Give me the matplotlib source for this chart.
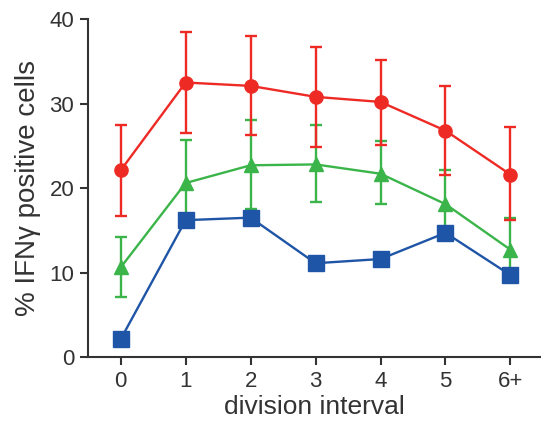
import matplotlib
matplotlib.use("Agg")
import matplotlib.pyplot as plt

plt.rcParams['font.family'] = ['Liberation Sans', 'DejaVu Sans']

# division interval categories
labels = ["0", "1", "2", "3", "4", "5", "6+"]
x = list(range(len(labels)))

# red series (circles)
red = [22.1, 32.5, 32.1, 30.8, 30.2, 26.8, 21.6]
red_hi = [27.5, 38.5, 38.0, 36.7, 35.2, 32.1, 27.2]
red_lo = [16.7, 26.5, 26.3, 24.9, 25.1, 21.5, 16.2]

# green series (triangles)
green = [10.6, 20.6, 22.7, 22.8, 21.7, 18.1, 12.7]
green_hi = [14.2, 25.7, 28.1, 27.5, 25.6, 22.1, 16.4]
green_lo = [7.1, 15.5, 17.5, 18.4, 18.1, 14.1, 9.0]

# blue series (squares)
blue = [2.1, 16.2, 16.5, 11.1, 11.6, 14.7, 9.7]

c_red = "#ee2a24"
c_green = "#3bb54a"
c_blue = "#1f55a6"

fig = plt.figure(figsize=(5.41, 4.26), dpi=100)
ax = fig.add_axes([0.163, 0.162, 0.837, 0.793])

def err(v, lo, hi):
    return [[a - b for a, b in zip(v, lo)], [b - a for a, b in zip(v, hi)]]

ax.errorbar(x, green, yerr=err(green, green_lo, green_hi), color=c_green,
            marker="^", markersize=10, linewidth=1.7, elinewidth=1.7,
            capsize=4.5, capthick=1.7, zorder=2)
ax.errorbar(x, red, yerr=err(red, red_lo, red_hi), color=c_red,
            marker="o", markersize=9.5, linewidth=1.7, elinewidth=1.7,
            capsize=4.5, capthick=1.7, zorder=3)
ax.plot(x, blue, color=c_blue, marker="s", markersize=11, linewidth=1.7, zorder=4)

ax.set_xlim(-0.5, 6.47)
ax.set_ylim(0, 40)
ax.set_yticks([0, 10, 20, 30, 40])
ax.set_xticks(x)
ax.set_xticklabels(labels)

ax.spines['top'].set_visible(False)
ax.spines['right'].set_visible(False)
for s in ['left', 'bottom']:
    ax.spines[s].set_linewidth(1.5)
    ax.spines[s].set_color("#333333")
ax.tick_params(axis='both', labelsize=16, width=1.5, length=6,
               colors="#333333", pad=4)

ax.set_xlabel("division interval", fontsize=19, color="#333333", labelpad=2)
ax.set_ylabel("% IFNγ positive cells", fontsize=20, color="#333333", labelpad=6)

fig.savefig("out.png", dpi=100)
